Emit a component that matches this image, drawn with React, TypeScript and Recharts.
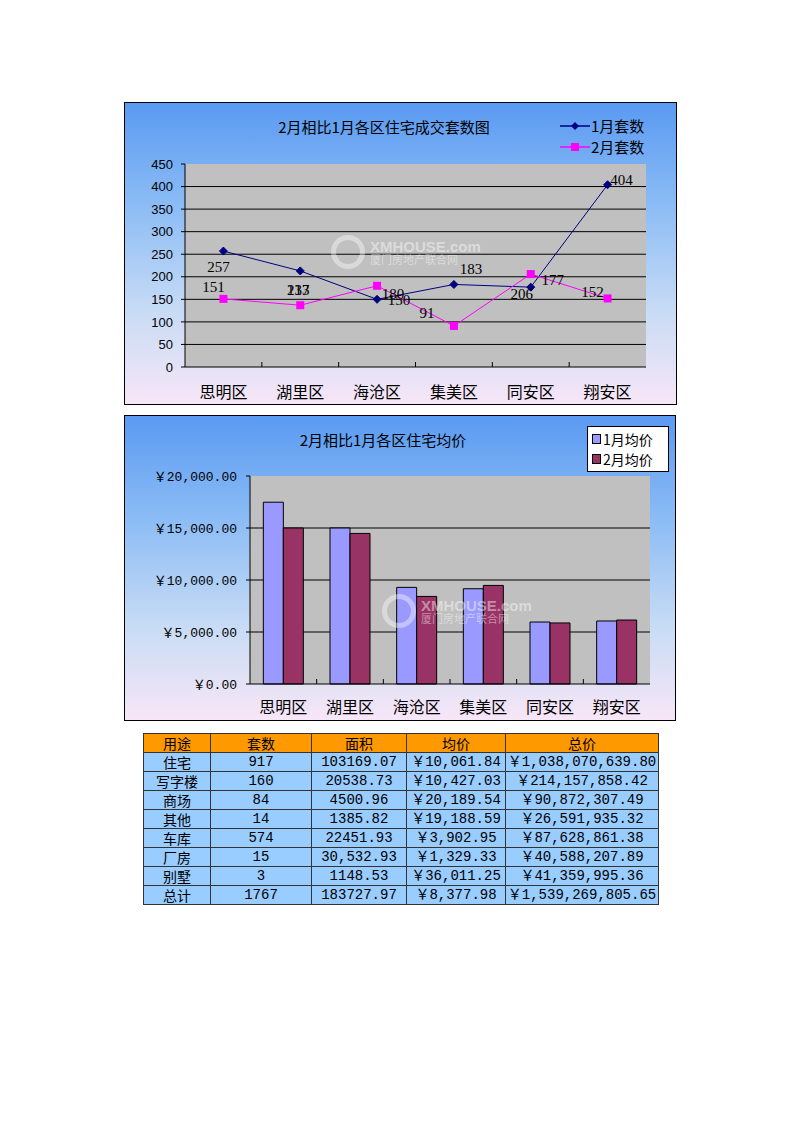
import React from 'react';
import { LineChart, Line, BarChart, Bar, XAxis, YAxis, CartesianGrid } from 'recharts';

// chart data
const districts = ['思明区', '湖里区', '海沧区', '集美区', '同安区', '翔安区'];
const janCount = [257, 213, 150, 183, 177, 404];
const febCount = [151, 137, 180, 91, 206, 152];
const countTicks = [0, 50, 100, 150, 200, 250, 300, 350, 400, 450];

const janPrice = [17480, 15000, 9290, 9160, 5960, 6060];
const febPrice = [15000, 14480, 8420, 9480, 5870, 6150];
const priceTicks = [0, 5000, 10000, 15000, 20000];

// table data
const tableHeader = ['用途', '套数', '面积', '均价', '总价'];
const usageTypes = ['住宅', '写字楼', '商场', '其他', '车库', '厂房', '别墅', '总计'];
const unitCounts = ['917', '160', '84', '14', '574', '15', '3', '1767'];
const areas = ['103169.07', '20538.73', '4500.96', '1385.82', '22451.93', '30,532.93', '1148.53', '183727.97'];
const avgPrices = ['￥10,061.84', '￥10,427.03', '￥20,189.54', '￥19,188.59', '￥3,902.95', '￥1,329.33', '￥36,011.25', '￥8,377.98'];
const totalPrices = ['￥1,038,070,639.80', '￥214,157,858.42', '￥90,872,307.49', '￥26,591,935.32', '￥87,628,861.38', '￥40,588,207.89', '￥41,359,995.36', '￥1,539,269,805.65'];

// label nudges (excel placed them by hand)
const janLabelOffsets = [[-5, 16], [-2, 19], [22, 1], [17, -15], [22, -7], [14, -5]];
const febLabelOffsets = [[-10, -12], [-2, -15], [16, 8], [-27, -13], [-9, 20], [-15, -6]];

const countData = districts.map((d, i) => ({ name: d, jan: janCount[i], feb: febCount[i] }));
const priceData = districts.map((d, i) => ({ name: d, jan: janPrice[i], feb: febPrice[i] }));

const CJK = "'Noto Sans CJK SC', sans-serif";
const MONO = "'Liberation Mono', 'Noto Sans CJK SC', monospace";
const BG = 'linear-gradient(to bottom, #5a9af2 0%, #8dbdf5 35%, #c9dcf5 70%, #f7e6f7 100%)';

const fmtYen = (v: number) => '￥' + v.toLocaleString('en-US', { minimumFractionDigits: 2, maximumFractionDigits: 2 });

function CategoryTick(props: any) {
  const { x, payload, index, band, axisY, textDy } = props;
  const left = x - band / 2;
  return (
    <g>
      {index > 0 && <line x1={left} x2={left} y1={axisY} y2={axisY - 5} stroke="#000" />}
      <text x={x} y={axisY + textDy} textAnchor="middle" dominantBaseline="central" fontSize={16} fontFamily={CJK} fill="#000">
        {payload.value}
      </text>
    </g>
  );
}

const Diamond = (props: any) => {
  const { cx, cy } = props;
  if (cx == null) return null;
  return <polygon points={`${cx},${cy - 4} ${cx + 4},${cy} ${cx},${cy + 4} ${cx - 4},${cy}`} fill="#000080" stroke="#000080" />;
};

const Square = (props: any) => {
  const { cx, cy } = props;
  if (cx == null) return null;
  return <rect x={cx - 4} y={cy - 4} width={8} height={8} fill="#ff00ff" />;
};

const makeLabel = (offsets: number[][]) => (props: any) => {
  const { x, y, value, index } = props;
  const [dx, dy] = offsets[index] || [0, 0];
  return (
    <text x={x + dx} y={y + dy} textAnchor="middle" dominantBaseline="central" fontSize={15} fontFamily="'Liberation Serif', serif" fill="#000">
      {value}
    </text>
  );
};

function LineLegend() {
  const items = [
    { label: '1月套数', color: '#000080', mark: 'diamond' },
    { label: '2月套数', color: '#ff00ff', mark: 'square' },
  ];
  return (
    <div style={{ position: 'absolute', left: 435, top: 12 }}>
      {items.map((it) => (
        <div key={it.label} style={{ display: 'flex', alignItems: 'center', height: 21 }}>
          <svg width={30} height={12}>
            <line x1={0} x2={30} y1={6} y2={6} stroke={it.color} strokeWidth={1.5} />
            {it.mark === 'diamond' ? (
              <polygon points="15,2 19,6 15,10 11,6" fill={it.color} />
            ) : (
              <rect x={11} y={2} width={8} height={8} fill={it.color} />
            )}
          </svg>
          <span style={{ fontFamily: CJK, fontSize: 15, color: '#000', marginLeft: 1 }}>{it.label}</span>
        </div>
      ))}
    </div>
  );
}

function BarLegend() {
  const items = [
    { label: '1月均价', color: '#9999ff' },
    { label: '2月均价', color: '#993366' },
  ];
  return (
    <div style={{ position: 'absolute', left: 462, top: 10, background: '#fff', border: '1px solid #000', padding: '2px 4px', width: 72 }}>
      {items.map((it) => (
        <div key={it.label} style={{ display: 'flex', alignItems: 'center', height: 20 }}>
          <span style={{ width: 7, height: 8, background: it.color, border: '1px solid #000', marginRight: 2 }} />
          <span style={{ fontFamily: CJK, fontSize: 14, color: '#000' }}>{it.label}</span>
        </div>
      ))}
    </div>
  );
}

const Watermark = ({ left, top }: { left: number; top: number }) => (
  <div style={{ position: 'absolute', left, top, display: 'flex', alignItems: 'center', color: 'rgba(255,255,255,0.45)', lineHeight: 1 }}>
    <div
      style={{
        width: 24,
        height: 24,
        borderRadius: '50%',
        border: '5px solid rgba(255,255,255,0.4)',
        marginRight: 5,
      }}
    />
    <div>
      <div style={{ fontSize: 15, fontWeight: 'bold', fontFamily: 'Arial, sans-serif' }}>XMHOUSE.com</div>
      <div style={{ fontSize: 11, fontFamily: CJK }}>厦门房地产联合网</div>
    </div>
  </div>
);

function CountChart() {
  const W = 551, H = 301;
  const margin = { top: 61, right: 30, left: 0, bottom: 0 };
  const yW = 60, xH = 37;
  const band = (W - yW - margin.right) / districts.length;
  const axisY = H - xH;
  return (
    <div style={{ position: 'absolute', left: 124, top: 102, width: W, height: H, border: '1px solid #000', background: BG }}>
      <div style={{ position: 'absolute', left: 0, width: 518, top: 13, textAlign: 'center', fontFamily: CJK, fontSize: 15, color: '#000' }}>
        2月相比1月各区住宅成交套数图
      </div>
      <LineChart width={W} height={H} data={countData} margin={margin}>
        <CartesianGrid fill="#c0c0c0" vertical={false} stroke="#000" horizontalValues={[50, 100, 150, 200, 250, 300, 350, 400]} />
        <XAxis
          dataKey="name"
          height={xH}
          padding={{ left: band / 2, right: band / 2 }}
          axisLine={{ stroke: '#000' }}
          tickLine={false}
          interval={0}
          tick={<CategoryTick band={band} axisY={axisY} textDy={24} />}
        />
        <YAxis
          width={yW}
          domain={[0, 450]}
          ticks={countTicks}
          interval={0}
          axisLine={{ stroke: '#000' }}
          tickLine={{ stroke: '#000' }}
          tickSize={4}
          tickMargin={8}
          tick={{ fontSize: 13, fontFamily: 'Arial, Liberation Sans, sans-serif', fill: '#000' }}
        />
        <Line dataKey="jan" stroke="#000080" strokeWidth={1} dot={<Diamond />} isAnimationActive={false} label={makeLabel(janLabelOffsets)} />
        <Line dataKey="feb" stroke="#ff00ff" strokeWidth={1} dot={<Square />} isAnimationActive={false} label={makeLabel(febLabelOffsets)} />
      </LineChart>
      <LineLegend />
      <Watermark left={206} top={132} />
    </div>
  );
}

function PriceChart() {
  const W = 550, H = 304;
  const margin = { top: 60, right: 25, left: 0, bottom: 0 };
  const yW = 125, xH = 36;
  const band = (W - yW - margin.right) / districts.length;
  const axisY = H - xH;
  return (
    <div style={{ position: 'absolute', left: 124, top: 415, width: W, height: H, border: '1px solid #000', background: BG }}>
      <div style={{ position: 'absolute', left: 0, width: 516, top: 13, textAlign: 'center', fontFamily: CJK, fontSize: 15, color: '#000' }}>
        2月相比1月各区住宅均价
      </div>
      <BarChart width={W} height={H} data={priceData} margin={margin} barCategoryGap="20%" barGap={0}>
        <CartesianGrid fill="#c0c0c0" vertical={false} stroke="#000" horizontalValues={[5000, 10000, 15000]} />
        <XAxis
          dataKey="name"
          height={xH}
          axisLine={{ stroke: '#000' }}
          tickLine={false}
          interval={0}
          tick={<CategoryTick band={band} axisY={axisY} textDy={22} />}
        />
        <YAxis
          width={yW}
          domain={[0, 20000]}
          ticks={priceTicks}
          interval={0}
          axisLine={{ stroke: '#000' }}
          tickLine={{ stroke: '#000' }}
          tickSize={4}
          tickMargin={9}
          tickFormatter={fmtYen}
          tick={{ fontSize: 13, fontFamily: MONO, fill: '#000' }}
        />
        <Bar dataKey="jan" fill="#9999ff" stroke="#000" strokeWidth={1} isAnimationActive={false} />
        <Bar dataKey="feb" fill="#993366" stroke="#000" strokeWidth={1} isAnimationActive={false} />
      </BarChart>
      <BarLegend />
      <Watermark left={257} top={178} />
    </div>
  );
}

function SalesTable() {
  const colWidths = [67, 101, 95, 99, 153];
  const cell: React.CSSProperties = {
    border: '1px solid #333',
    padding: 0,
    height: 18,
    textAlign: 'center',
    fontSize: 14,
    lineHeight: '18px',
    color: '#000',
    whiteSpace: 'nowrap',
  };
  return (
    <table
      style={{
        position: 'absolute',
        left: 143,
        top: 733,
        width: 515,
        borderCollapse: 'collapse',
        tableLayout: 'fixed',
        background: '#99ccff',
      }}
    >
      <colgroup>
        {colWidths.map((w, i) => (
          <col key={i} style={{ width: w }} />
        ))}
      </colgroup>
      <thead>
        <tr>
          {tableHeader.map((h) => (
            <th key={h} style={{ ...cell, fontWeight: 'normal', background: '#ff9900', fontFamily: CJK }}>
              {h}
            </th>
          ))}
        </tr>
      </thead>
      <tbody>
        {usageTypes.map((u, i) => (
          <tr key={u}>
            <td style={{ ...cell, fontFamily: CJK }}>{u}</td>
            <td style={{ ...cell, fontFamily: MONO }}>{unitCounts[i]}</td>
            <td style={{ ...cell, fontFamily: MONO }}>{areas[i]}</td>
            <td style={{ ...cell, fontFamily: MONO }}>{avgPrices[i]}</td>
            <td style={{ ...cell, fontFamily: MONO }}>{totalPrices[i]}</td>
          </tr>
        ))}
      </tbody>
    </table>
  );
}

export default function App() {
  return (
    <div style={{ position: 'absolute', left: 0, top: 0, width: 800, height: 1132, background: '#fff' }}>
      <CountChart />
      <PriceChart />
      <SalesTable />
    </div>
  );
}
